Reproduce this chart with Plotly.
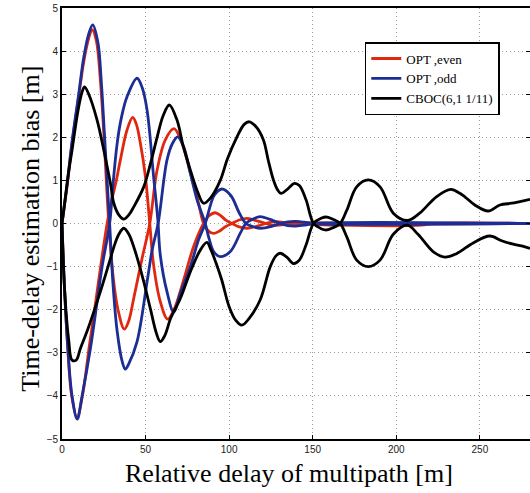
import plotly.graph_objects as go

# ---- data ----
# OPT, even (red)
red_up_x = [0, 3, 6, 10, 13, 16, 18, 20.5, 23, 25, 26.5, 28, 30.5, 33.5, 37.3, 40, 42.9, 47.9, 52.5,
            56.9, 61.8, 67, 71, 76.4, 81.7, 84.7, 87.5, 90.7, 94, 97.5, 101.7, 106, 110.6, 115, 122,
            126, 130, 137, 150, 165, 280]
red_up_y = [0, 0.85, 1.85, 2.95, 3.75, 4.3, 4.5, 4.25, 3.3, 2.1, 1.0, 0, -1.2, -2.0, -2.45, -2.25, -1.74,
            -0.81, 0, 1.24, 1.94, 2.2, 1.95, 1.24, 0.47, 0, -0.17, -0.23, -0.18, -0.08, 0, 0.08, 0.12,
            0.08, 0, -0.04, -0.04, 0, 0.02, 0, 0]
red_lo_x = [0, 1.5, 3.3, 5.8, 9, 12, 16.5, 19.5, 23.5, 27, 29.5, 32.5, 34.9, 38.9, 42.3, 44.5, 46.9,
            49.9, 52.5, 54.8, 58.8, 63.2, 67, 72.8, 78.7, 84.7, 88, 91.7, 95, 98, 101.7, 106, 111, 116,
            122, 126, 130, 137, 150, 165, 215, 222, 280]
red_lo_y = [0, -1.5, -2.8, -4.0, -4.5, -4.05, -2.8, -2.0, -0.9, 0, 0.5, 1.0, 1.47, 2.17, 2.46, 2.3, 1.86,
            1.09, 0, -0.96, -1.81, -2.22, -2.0, -1.31, -0.54, 0, 0.18, 0.25, 0.18, 0.08, 0, -0.08, -0.11,
            -0.07, 0, 0.04, 0.04, 0, -0.02, -0.04, -0.04, 0, 0]

# OPT, odd (blue)
blue_up_x = [0, 3, 6, 10, 13, 16, 18.4, 21.5, 23.5, 25.5, 27, 28.5, 30.5, 33, 36, 37.9, 40, 44.9, 50.9,
             54, 57.5, 62.8, 66, 69.2, 72.8, 76.8, 80.8, 85.7, 88, 90.7, 94.7, 100.7, 106.6, 110, 114,
             118.6, 124, 130.5, 135, 140, 145, 150, 280]
blue_up_y = [0, 0.9, 1.9, 3.0, 3.85, 4.4, 4.61, 4.2, 3.3, 2.0, 1.0, 0, -1.4, -2.5, -3.2, -3.38, -3.25,
             -2.74, -1.35, -0.6, 0, 1.47, 1.85, 2.01, 1.78, 1.16, 0.55, 0, -0.35, -0.65, -0.77, -0.65,
             -0.23, 0, 0.1, 0.16, 0.1, 0, -0.05, -0.06, -0.04, 0, 0]
blue_lo_x = [0, 1.5, 3.5, 6, 9.1, 12, 17, 20, 24, 28.5, 30.5, 33, 35.5, 38.9, 44.9, 48, 50.9, 54.8,
             57.3, 58.8, 62.8, 66.8, 70.8, 76.8, 81.7, 85.7, 89, 91, 95.7, 101, 106, 110, 114, 119,
             125, 130.5, 135, 140, 145, 150, 280]
blue_lo_y = [0, -1.5, -2.9, -4.0, -4.54, -4.0, -2.9, -2.1, -1.0, 0, 0.9, 1.86, 2.45, 2.94, 3.37, 3.15,
             2.63, 1.09, 0.1, -0.73, -1.58, -2.05, -1.62, -1.0, -0.38, 0, 0.45, 0.65, 0.8, 0.65, 0.25,
             0, -0.07, -0.11, -0.07, 0, 0.04, 0.05, 0.03, 0, 0]

# CBOC(6,1 1/11) (black)
black_up_x = [0, 2, 4, 6, 9.5, 12, 13.5, 16, 21, 25, 29, 31, 34, 37, 40, 43, 48.9, 53, 56.9, 60.5,
              64.2, 68.8, 72.5, 76.8, 81, 84.7, 89, 94.7, 99, 104.7, 109, 112, 116, 120.5, 123.5,
              126.5, 129, 131, 135, 139, 142, 146, 150.5, 155, 158.5, 162, 166.4, 170.4, 176.3, 183.3,
              190.3, 198.2, 206.6, 214, 224, 232.7, 238, 241, 247, 255, 262, 269, 274, 280]
black_up_y = [0, 0.6, 1.2, 1.7, 2.6, 3.05, 3.17, 3.0, 2.4, 1.7, 0.93, 0.47, 0.2, 0.1, 0.2, 0.39, 0.85,
              1.4, 2.0, 2.5, 2.75, 2.4, 1.8, 1.24, 0.75, 0.47, 0.6, 1.0, 1.5, 2.01, 2.3, 2.36, 2.25,
              1.94, 1.45, 1.01, 0.78, 0.70, 0.8, 0.93, 0.88, 0.55, 0, -0.12, -0.15, -0.1, 0, 0.31, 0.85,
              1.01, 0.85, 0.24, 0.07, 0.24, 0.62, 0.79, 0.70, 0.62, 0.43, 0.29, 0.43, 0.47, 0.51, 0.56]
black_lo_x = [0, 1.5, 4, 6, 8.5, 11, 15, 19, 24, 29, 31, 34, 37, 40, 43, 45, 48.9, 53, 56.5, 58.8, 61.5,
              65, 70.8, 77, 83, 86.7, 89, 92, 95.5, 100, 104, 107.6, 112, 118.6, 124.6, 128, 130.5,
              134.5, 138.5, 142, 146, 150.5, 155, 158.5, 162, 166.4, 170.4, 176.3, 183.3, 190.3, 198.2,
              206.6, 213, 222, 229, 236, 246, 256, 263, 270, 275, 280]
black_lo_y = [0, -1.5, -2.7, -3.17, -3.17, -2.9, -2.5, -2.05, -1.45, -0.81, -0.55, -0.25, -0.11, -0.25,
              -0.55, -0.8, -1.35, -2.0, -2.55, -2.74, -2.6, -2.2, -1.74, -1.1, -0.6, -0.44, -0.6, -0.9,
              -1.3, -1.93, -2.25, -2.36, -2.2, -1.77, -1.0, -0.75, -0.69, -0.78, -0.93, -0.85, -0.5, 0,
              0.12, 0.15, 0.1, 0, -0.31, -0.85, -1.0, -0.85, -0.25, -0.04, -0.25, -0.65, -0.78, -0.70,
              -0.45, -0.29, -0.40, -0.48, -0.52, -0.58]

series_names = ["OPT ,even", "OPT ,odd", "CBOC(6,1 1/11)"]
x_ticks = [0, 50, 100, 150, 200, 250]
y_ticks = [-5, -4, -3, -2, -1, 0, 1, 2, 3, 4, 5]
x_title = "Relative delay of multipath [m]"
y_title = "Time-delay estimation bias [m]"

RED = "#e0280f"
BLUE = "#1c2d94"
BLACK = "#000000"

fig = go.Figure()
pairs = [
    (red_up_x, red_up_y, red_lo_x, red_lo_y, RED, series_names[0]),
    (blue_up_x, blue_up_y, blue_lo_x, blue_lo_y, BLUE, series_names[1]),
    (black_up_x, black_up_y, black_lo_x, black_lo_y, BLACK, series_names[2]),
]
for ux, uy, lx, ly, col, name in pairs:
    fig.add_trace(go.Scatter(x=ux, y=uy, mode="lines", name=name,
                             line=dict(color=col, width=2.8, shape="spline", smoothing=1.0)))
    fig.add_trace(go.Scatter(x=lx, y=ly, mode="lines", name=name, showlegend=False,
                             line=dict(color=col, width=2.8, shape="spline", smoothing=1.0)))

axis_common = dict(
    showgrid=True, gridcolor="#9a9a9a", griddash="1px,3px", gridwidth=1,
    zeroline=False, showline=True, linecolor="black", linewidth=1.8,
    ticks="inside", ticklen=4, tickcolor="black", tickwidth=1,
    tickfont=dict(family="Liberation Sans", size=10, color="#222"),
    automargin=False,
)

fig.update_xaxes(range=[0, 280], tickvals=x_ticks, mirror=True, **axis_common)
fig.update_yaxes(range=[-5, 5], tickvals=y_ticks, mirror="ticks", **axis_common)

fig.add_annotation(text=x_title, xref="paper", yref="paper", x=0.485, y=-0.079,
                   xanchor="center", yanchor="middle", showarrow=False,
                   font=dict(family="Liberation Serif", size=26, color="black"))
fig.add_annotation(text=y_title, xref="paper", yref="paper", x=-0.066, y=0.488,
                   xanchor="center", yanchor="middle", showarrow=False, textangle=-90,
                   font=dict(family="Liberation Serif", size=26, color="black"))

fig.update_layout(
    width=530, height=493,
    margin=dict(l=62, r=0, t=8, b=54),
    paper_bgcolor="white", plot_bgcolor="white",
    showlegend=True,
    legend=dict(x=0.647, y=0.921, xanchor="left", yanchor="top",
                bgcolor="white", bordercolor="black", borderwidth=1.5,
                font=dict(family="Liberation Serif", size=13, color="black"),
                tracegroupgap=0),
)

# remove the page's default 8px body margin so the figure sits at the window origin
fig.write_html("out.html", config={"displayModeBar": False},
               post_script="document.body.style.margin='0px';")
